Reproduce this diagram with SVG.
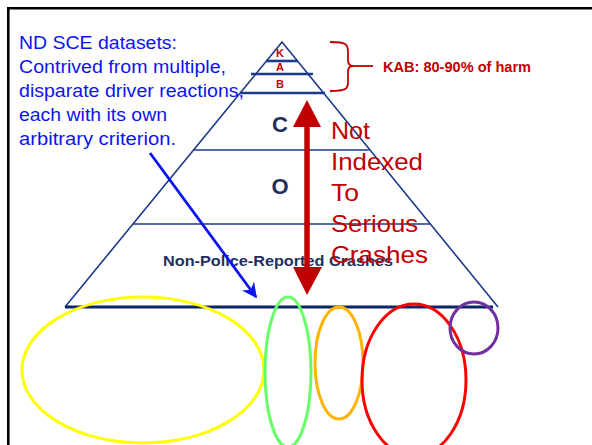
<svg xmlns="http://www.w3.org/2000/svg" width="592" height="445" viewBox="0 0 592 445">
<style>
.py{fill:none;stroke:#1c3a8c;stroke-width:1.6}
.pyt{fill:none;stroke:#1c3a8c;stroke-width:2.6}
.lv{font-family:"Liberation Sans",Arial,sans-serif;font-weight:bold;fill:#c00000;text-anchor:middle}
.big{font-family:"Liberation Sans",Arial,sans-serif;font-weight:bold;fill:#1f2f5e;text-anchor:middle}
.red{font-family:"Liberation Sans",Arial,sans-serif;font-size:24px;fill:#c00000}
.blue{font-family:"Liberation Sans",Arial,sans-serif;font-size:17.5px;fill:#0a14f0}
.el{fill:none;stroke-width:3}
</style>
<defs>
<marker id="bh" viewBox="0 0 10 10" refX="9" refY="5" markerWidth="15" markerHeight="15" orient="auto" markerUnits="userSpaceOnUse">
<path d="M0,0 L10,5 L0,10 L3,5 Z" fill="#0a14f0"/>
</marker>
</defs>
<rect width="592" height="445" fill="#fff"/>
<path d="M8.3,445 V8.3 H592" fill="none" stroke="#000" stroke-width="2.6"/>
<g id="pyramid">
<path class="py" d="M65,307 L282,42 L498,307"/>
<line class="pyt" x1="266" y1="61" x2="298" y2="61"/>
<line class="pyt" x1="251" y1="74" x2="313" y2="74"/>
<line class="pyt" x1="240" y1="93" x2="325" y2="93"/>
<line class="py" x1="194" y1="150" x2="369" y2="150"/>
<line class="py" x1="133" y1="224" x2="430" y2="224"/>
<line x1="65" y1="307" x2="493" y2="307" stroke="#0d2566" stroke-width="3"/>
</g>
<g id="labels">
<text class="lv" x="280" y="57" font-size="11">K</text>
<text class="lv" x="280" y="71" font-size="11">A</text>
<text class="lv" x="280" y="88" font-size="11">B</text>
<text class="big" x="280" y="132" font-size="22">C</text>
<text class="big" x="280" y="193.5" font-size="22">O</text>
<text class="big" x="278" y="266" font-size="15.5" textLength="230" lengthAdjust="spacingAndGlyphs">Non-Police-Reported Crashes</text>
</g>
<g id="kab">
<path d="M330,42 C346,42 348,44 348,52 L348,60 C348,64 349,66 353,66 C349,66 348,68 348,72 L348,82 C348,89 346,91 330,91" fill="none" stroke="#c00000" stroke-width="1.8"/>
<line x1="352" y1="66" x2="373" y2="66" stroke="#c00000" stroke-width="1.8"/>
<text x="383" y="72" font-family="'Liberation Sans',Arial,sans-serif" font-size="14.5" font-weight="bold" fill="#c00000" textLength="148" lengthAdjust="spacingAndGlyphs">KAB: 80-90% of harm</text>
</g>
<g id="connectors">
<line x1="307" y1="124" x2="307" y2="270" stroke="#c00000" stroke-width="5.5"/>
<path d="M307,100 L321,127 L293,127 Z" fill="#c00000"/>
<path d="M307,295 L322,267 L293,267 Z" fill="#c00000"/>
<line x1="150" y1="153" x2="256" y2="297" stroke="#0a14f0" stroke-width="2.8" marker-end="url(#bh)"/>
</g>
<g id="redtext">
<text class="red" x="331" y="139" textLength="39" lengthAdjust="spacingAndGlyphs">Not</text>
<text class="red" x="331" y="170" textLength="92" lengthAdjust="spacingAndGlyphs">Indexed</text>
<text class="red" x="331" y="201" textLength="28" lengthAdjust="spacingAndGlyphs">To</text>
<text class="red" x="331" y="232" textLength="87" lengthAdjust="spacingAndGlyphs">Serious</text>
<text class="red" x="331" y="263" textLength="97" lengthAdjust="spacingAndGlyphs">Crashes</text>
</g>
<g id="note">
<text class="blue" x="19" y="49" textLength="158" lengthAdjust="spacingAndGlyphs">ND SCE datasets:</text>
<text class="blue" x="19" y="73" textLength="207" lengthAdjust="spacingAndGlyphs">Contrived from multiple,</text>
<text class="blue" x="19" y="97" textLength="225" lengthAdjust="spacingAndGlyphs">disparate driver reactions,</text>
<text class="blue" x="19" y="121" textLength="148" lengthAdjust="spacingAndGlyphs">each with its own</text>
<text class="blue" x="19" y="145" textLength="157" lengthAdjust="spacingAndGlyphs">arbitrary criterion.</text>
</g>
<g id="ellipses">
<ellipse id="yellow" class="el" cx="143" cy="370" rx="121" ry="73" stroke="#ffff00"/>
<ellipse id="green" class="el" cx="288" cy="372" rx="23" ry="75" stroke="#66ff66"/>
<ellipse id="orange" class="el" cx="339" cy="363" rx="24" ry="56" stroke="#ffb400"/>
<ellipse id="redell" class="el" cx="414" cy="380" rx="52" ry="76" stroke="#ff0000"/>
<ellipse id="purple" class="el" cx="474" cy="328" rx="24" ry="26" stroke="#7030a0"/>
</g>
</svg>
